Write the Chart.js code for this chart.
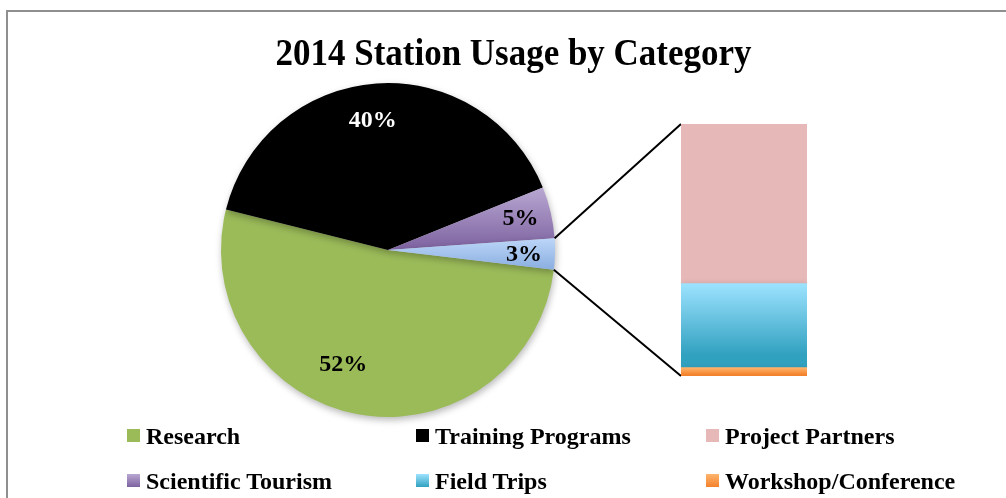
<!DOCTYPE html>
<html>
<head>
<meta charset="utf-8">
<script src="https://cdn.jsdelivr.net/npm/chart.js@4/dist/chart.umd.min.js"></script>
<style>
  body { margin: 0; background: #fff; }
  #wrap { position: relative; width: 1006px; height: 498px; overflow: hidden; background: #fff; }
  #frame { position: absolute; left: 6px; top: 10px; width: 1100px; height: 600px; border: 2px solid #8f8f8f; }
  #pieChart { position: absolute; left: 0; top: 0; }
  #barChart { position: absolute; left: 660px; top: 100px; }
  #title { position: absolute; left: 0; width: 1027px; top: 30px; text-align: center; transform: scaleX(0.92);
    font: bold 38px "Liberation Serif", "Times New Roman", serif; color: #000; }
  .item { position: absolute; font: bold 24px "Liberation Serif", "Times New Roman", serif; color: #000;
    line-height: 24px; white-space: nowrap; }
  .item span { position: absolute; left: 0; top: 5px; width: 13px; height: 13px; }
  .item b { position: absolute; left: 19px; top: 0; }
</style>
</head>
<body>
<div id="wrap">
  <div id="frame"></div>
  <canvas id="pieChart" width="1006" height="498"></canvas>
  <canvas id="barChart" width="170" height="300"></canvas>
  <div id="title">2014 Station Usage by Category</div>
  <div id="legend"></div>
</div>
<script>
"use strict";

// pie slices
var pieLabels = ["Research", "Training Programs", "Scientific Tourism"];
var pieValues = [52, 40, 5];

// the small slice broken out into the bar
var otherLabels = ["Project Partners", "Field Trips", "Workshop/Conference"];
var otherValues = [1.9, 1.0, 0.1];

var otherTotal = otherValues.reduce((a, b) => a + b, 0);
var allValues = pieValues.concat([otherTotal]);
var rotation = 96.8;

// [top, bottom] colours, same colour twice = flat fill
var pieColors = [
  ["#9bbb59", "#9bbb59"],
  ["#000000", "#000000"],
  ["#b9a8d2", "#7d62a0"],
  ["#bcd6f8", "#8aaee0"],
];
var otherColors = [
  ["#e6b8b7", "#e6b8b7"],
  ["#9de3ff", "#31a1c0"],
  ["#ffb56e", "#f3822c"],
];
// label nudges (px) so they sit like excel's best fit
var labelShift = [[-21, -15], [-6, 2], [4, -2], [4, 2]];

function arcGradient(context) {
  var chart = context.chart;
  var i = context.dataIndex;
  var c = pieColors[i];
  var area = chart.chartArea;
  if (!area || c[0] == c[1]) return c[1];
  var cx = (area.left + area.right) / 2;
  var cy = (area.top + area.bottom) / 2;
  var r = Math.min(area.right - area.left, area.bottom - area.top) / 2;
  var total = allValues.reduce((a, b) => a + b, 0);
  var before = 0;
  for (var k = 0; k < i; k++) before += allValues[k];
  var a0 = (rotation - 90) * Math.PI / 180 + before / total * Math.PI * 2;
  var a1 = a0 + allValues[i] / total * Math.PI * 2;
  var minY = cy, maxY = cy;
  for (var s = 0; s <= 20; s++) {
    var y = cy + r * Math.sin(a0 + (a1 - a0) * s / 20);
    minY = Math.min(minY, y);
    maxY = Math.max(maxY, y);
  }
  var g = chart.ctx.createLinearGradient(0, minY, 0, maxY);
  g.addColorStop(0, c[0]);
  g.addColorStop(1, c[1]);
  return g;
}

// bar datasets stack from the bottom, so reverse the order
var barOrder = [2, 1, 0];
function barColorsFor(i) { return otherColors[barOrder[i]]; }

function barGradient(context) {
  var chart = context.chart;
  var i = context.datasetIndex;
  var c = barColorsFor(i);
  var y = chart.scales.y;
  if (!y || !chart.chartArea || c[0] == c[1]) return c[1];
  var base = 0;
  for (var k = 0; k < i; k++) base += chart.data.datasets[k].data[0];
  var v = chart.data.datasets[i].data[0];
  var g = chart.ctx.createLinearGradient(0, y.getPixelForValue(base + v), 0, y.getPixelForValue(base));
  g.addColorStop(0, c[0]);
  g.addColorStop(0.85, c[1]);
  g.addColorStop(1, c[1]);
  return g;
}

// soft drop shadow under the marks
var shadow = {
  id: "shadow",
  beforeDatasetsDraw(chart) {
    var ctx = chart.ctx;
    ctx.save();
    ctx.shadowColor = "rgba(0,0,0,0.28)";
    ctx.shadowBlur = 7;
    ctx.shadowOffsetX = 1;
    ctx.shadowOffsetY = 3;
  },
  afterDatasetsDraw(chart) {
    chart.ctx.restore();
  },
};

var barChart = new Chart(document.getElementById("barChart").getContext("2d"), {
  type: "bar",
  data: {
    labels: ["Other"],
    datasets: barOrder.map((j) => ({
      label: otherLabels[j],
      data: [otherValues[j]],
      backgroundColor: barGradient,
      borderWidth: 0,
      barPercentage: 1,
      categoryPercentage: 1,
    })),
  },
  options: {
    responsive: false,
    animation: false,
    layout: { padding: { left: 21, right: 23, top: 24, bottom: 24 } },
    plugins: { legend: { display: false }, tooltip: { enabled: false } },
    scales: {
      x: { display: false, stacked: true },
      y: { display: false, stacked: true, min: 0, max: otherTotal },
    },
  },
  plugins: [shadow],
});

var pieExtras = {
  id: "pieExtras",
  afterDatasetsDraw(chart) {
    var ctx = chart.ctx;
    var arcs = chart.getDatasetMeta(0).data;
    var total = allValues.reduce((a, b) => a + b, 0);

    // percent labels
    ctx.save();
    ctx.font = "bold 24px 'Liberation Serif', 'Times New Roman', serif";
    ctx.textAlign = "center";
    ctx.textBaseline = "middle";
    arcs.forEach((arc, i) => {
      var mid = (arc.startAngle + arc.endAngle) / 2;
      var rr = arc.outerRadius * 0.79;
      ctx.fillStyle = i == 1 ? "#ffffff" : "#000000";
      ctx.fillText(Math.round(allValues[i] / total * 100) + "%",
        arc.x + Math.cos(mid) * rr + labelShift[i][0], arc.y + Math.sin(mid) * rr + labelShift[i][1]);
    });

    // lines from the small slice to the bar
    var arc = arcs[3];
    var bc = barChart.canvas;
    var topBar = barChart.getDatasetMeta(barOrder.length - 1).data[0];
    var lowBar = barChart.getDatasetMeta(0).data[0];
    var left = bc.offsetLeft + topBar.x - topBar.width / 2;
    ctx.strokeStyle = "#000000";
    ctx.lineWidth = 2;
    ctx.beginPath();
    ctx.moveTo(arc.x + Math.cos(arc.startAngle) * arc.outerRadius, arc.y + Math.sin(arc.startAngle) * arc.outerRadius);
    ctx.lineTo(left, bc.offsetTop + topBar.y);
    ctx.moveTo(arc.x + Math.cos(arc.endAngle) * arc.outerRadius, arc.y + Math.sin(arc.endAngle) * arc.outerRadius);
    ctx.lineTo(left, bc.offsetTop + lowBar.base);
    ctx.stroke();
    ctx.restore();
  },
};

var pieChart = new Chart(document.getElementById("pieChart").getContext("2d"), {
  type: "pie",
  data: {
    labels: pieLabels.concat(["Other"]),
    datasets: [{
      data: allValues,
      backgroundColor: arcGradient,
      borderWidth: 0,
    }],
  },
  options: {
    responsive: false,
    animation: false,
    rotation: rotation,
    layout: { padding: { left: 221, right: 451, top: 83, bottom: 81 } },
    plugins: { legend: { display: false }, tooltip: { enabled: false } },
  },
  plugins: [shadow, pieExtras],
});

// legend, three columns
var legendItems = [
  [pieLabels[0], pieColors[0]],
  [pieLabels[1], pieColors[1]],
  [otherLabels[0], otherColors[0]],
  [pieLabels[2], pieColors[2]],
  [otherLabels[1], otherColors[1]],
  [otherLabels[2], otherColors[2]],
];
var legend = document.getElementById("legend");
legendItems.forEach((it, i) => {
  var d = document.createElement("div");
  d.className = "item";
  d.style.left = [127, 416, 706][i % 3] + "px";
  d.style.top = [424, 469][Math.floor(i / 3)] + "px";
  var sw = document.createElement("span");
  sw.style.background = "linear-gradient(" + it[1][0] + "," + it[1][1] + ")";
  var t = document.createElement("b");
  t.textContent = it[0];
  d.appendChild(sw);
  d.appendChild(t);
  legend.appendChild(d);
});
</script>
</body>
</html>
